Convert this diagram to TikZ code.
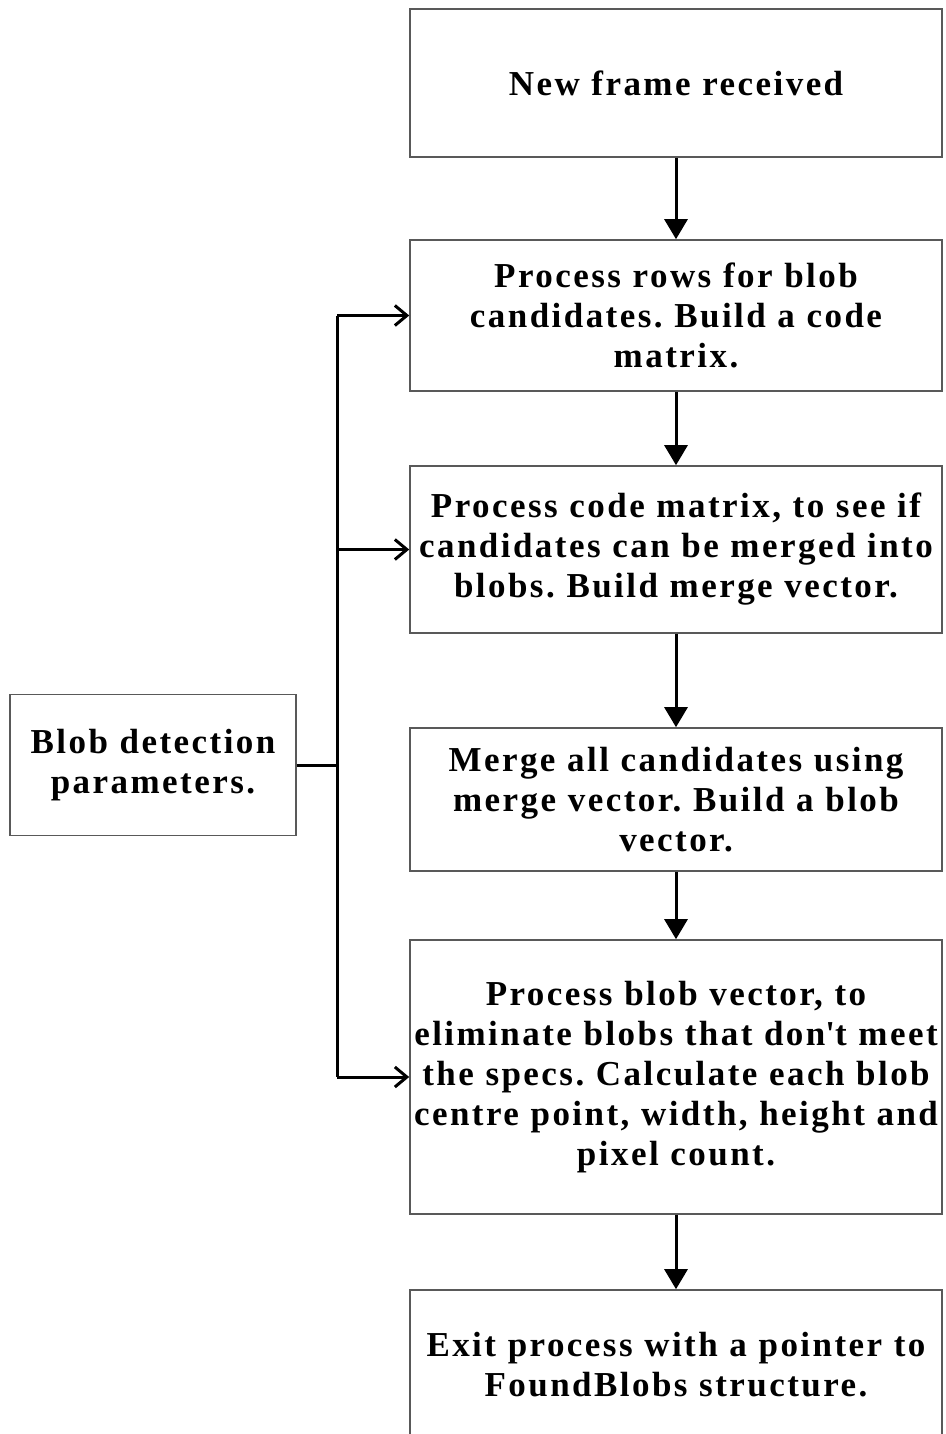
\documentclass[tikz,border=0pt]{standalone}
\usepackage{fontspec}
\setmainfont{Liberation Serif}[LetterSpace=7,WordSpace=1.2]
\usetikzlibrary{arrows.meta}
\begin{document}
\frenchspacing
\begin{tikzpicture}[x=1pt,y=-1pt,
  stepbox/.style={draw=black!65, line width=1.6pt, rectangle, minimum width=532pt,
    align=center, inner sep=0pt, text width=532pt,
    font=\fontsize{35}{40}\selectfont\bfseries},
  flow/.style={draw=black, line width=3pt, -{Triangle[length=20pt,width=23pt]}},
  feed/.style={draw=black, line width=3pt, -{Straight Barb[length=12pt,width=20pt,line width=3pt]}},
  link/.style={draw=black, line width=3pt}]
\useasboundingbox (0,0) rectangle (945,1434);
\node[stepbox, minimum height=148pt] (frame) at (676,83) {New frame received};
\node[stepbox, minimum height=151pt] (rows) at (676,315.5)
  {Process rows for blob\\candidates. Build a code\\matrix.};
\node[stepbox, minimum height=167pt] (codes) at (676,549.5)
  {Process code matrix, to see if\\candidates can be merged into\\blobs. Build merge vector.};
\node[stepbox, minimum height=143pt] (merge) at (676,799.5)
  {Merge all candidates using\\merge vector. Build a blob\\vector.};
\node[stepbox, minimum height=274pt] (specs) at (676,1077)
  {Process blob vector, to\\eliminate blobs that don\textquotesingle t meet\\the specs. Calculate each blob\\centre point, width, height and\\pixel count.};
\node[stepbox, minimum height=150pt] (exit) at (676,1365)
  {Exit process with a pointer to\\FoundBlobs structure.};
\node[stepbox, minimum width=286pt, text width=284pt, minimum height=141pt] (params) at (153,765)
  {Blob detection\\parameters.};
\coordinate (hub) at (337,765);
% main sequence
\draw[flow] (frame) -- (rows);
\draw[flow] (rows) -- (codes);
\draw[flow] (codes) -- (merge);
\draw[flow] (merge) -- (specs);
\draw[flow] (specs) -- (exit);
% parameter feed to the processing stages
\draw[link] (params.east) -- (hub);
\draw[link] (rows.west -| hub) -- (specs.west -| hub);
\draw[feed] (rows.west -| hub) -- (rows.west);
\draw[feed] (codes.west -| hub) -- (codes.west);
\draw[feed] (specs.west -| hub) -- (specs.west);
\end{tikzpicture}
\end{document}
